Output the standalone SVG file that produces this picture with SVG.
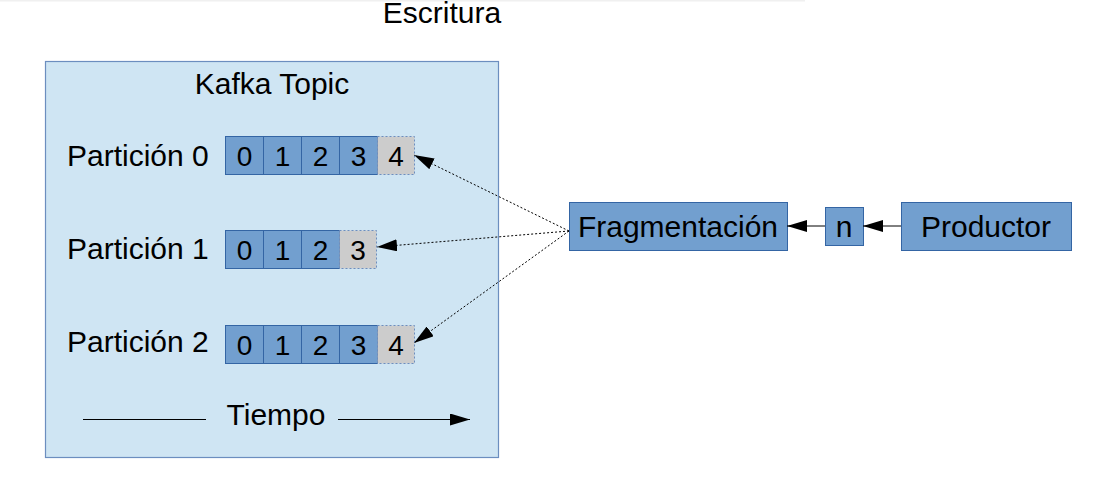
<svg xmlns="http://www.w3.org/2000/svg" width="1113" height="480" viewBox="0 0 1113 480">
<style>
text{font-family:"Liberation Sans",Arial,sans-serif;fill:#000}
.lbl{font-size:30px}
.dig{font-size:28px;text-anchor:middle}
.cell{fill:#729fcf;stroke:#3465a4;stroke-width:1}
.new{fill:#cccccc;stroke:#6c8ebf;stroke-width:1;stroke-dasharray:2 2}
.box{fill:#729fcf;stroke:#3465a4;stroke-width:1}
.conn{fill:none;stroke:#000;stroke-width:1}
.dot{stroke-dasharray:2 2}
</style>
<defs>
<marker id="ahb" viewBox="0 0 20 12" refX="20" refY="6" markerWidth="20" markerHeight="12" markerUnits="userSpaceOnUse" orient="auto">
<path d="M0,0 L20,6 L0,12 z" fill="#000"/>
</marker>
</defs>
<rect x="0" y="0" width="805" height="1.5" fill="#f0f0f0"/>
<text x="442" y="23" class="lbl" text-anchor="middle">Escritura</text>
<g id="kafka-topic">
<rect x="45.5" y="61.5" width="453" height="396" fill="#cfe5f3" stroke="#6c8ebf" stroke-width="1.2"/>
<text x="272" y="94" class="lbl" text-anchor="middle">Kafka Topic</text>
</g>
<g id="particion-0">
<text x="67" y="166" class="lbl">Partición 0</text>
<rect class="cell" x="225.5" y="136.5" width="38" height="38"/>
<rect class="cell" x="263.5" y="136.5" width="38" height="38"/>
<rect class="cell" x="301.5" y="136.5" width="38" height="38"/>
<rect class="cell" x="339.5" y="136.5" width="38" height="38"/>
<rect class="new" x="377.5" y="136.5" width="37" height="38"/>
<text class="dig" x="244.5" y="166">0</text>
<text class="dig" x="282.5" y="166">1</text>
<text class="dig" x="320.5" y="166">2</text>
<text class="dig" x="358.5" y="166">3</text>
<text class="dig" x="396" y="166">4</text>
</g>
<g id="particion-1">
<text x="67" y="259" class="lbl">Partición 1</text>
<rect class="cell" x="225.5" y="230.5" width="38" height="38"/>
<rect class="cell" x="263.5" y="230.5" width="38" height="38"/>
<rect class="cell" x="301.5" y="230.5" width="38" height="38"/>
<rect class="new" x="339.5" y="230.5" width="37" height="38"/>
<text class="dig" x="244.5" y="260">0</text>
<text class="dig" x="282.5" y="260">1</text>
<text class="dig" x="320.5" y="260">2</text>
<text class="dig" x="358" y="260">3</text>
</g>
<g id="particion-2">
<text x="67" y="352" class="lbl">Partición 2</text>
<rect class="cell" x="225.5" y="325.5" width="38" height="38"/>
<rect class="cell" x="263.5" y="325.5" width="38" height="38"/>
<rect class="cell" x="301.5" y="325.5" width="38" height="38"/>
<rect class="cell" x="339.5" y="325.5" width="38" height="38"/>
<rect class="new" x="377.5" y="325.5" width="37" height="38"/>
<text class="dig" x="244.5" y="355">0</text>
<text class="dig" x="282.5" y="355">1</text>
<text class="dig" x="320.5" y="355">2</text>
<text class="dig" x="358.5" y="355">3</text>
<text class="dig" x="396" y="355">4</text>
</g>
<g id="tiempo">
<text x="276" y="425" class="lbl" text-anchor="middle">Tiempo</text>
</g>
<g id="fragmentacion">
<rect class="box" x="569.5" y="202.5" width="218" height="48"/>
<text x="678" y="237" class="lbl" text-anchor="middle">Fragmentación</text>
</g>
<g id="n">
<rect class="box" x="825.5" y="207.5" width="38" height="38"/>
<text x="844" y="237" class="lbl" text-anchor="middle">n</text>
</g>
<g id="productor">
<rect class="box" x="901.5" y="202.5" width="170" height="48"/>
<text x="986" y="237" class="lbl" text-anchor="middle">Productor</text>
</g>
<g id="connectors">
<path class="conn dot" d="M569,231 L414,155" marker-end="url(#ahb)"/>
<path class="conn dot" d="M569,231 L377,247" marker-end="url(#ahb)"/>
<path class="conn dot" d="M569,231 L414,343" marker-end="url(#ahb)"/>
<path class="conn" d="M901,226 L863,226" marker-end="url(#ahb)"/>
<path class="conn" d="M825,226 L787,226" marker-end="url(#ahb)"/>
<path class="conn" d="M83,419.5 L206,419.5"/>
<path class="conn" d="M338,419.5 L470,419.5" marker-end="url(#ahb)"/>
</g>
</svg>
